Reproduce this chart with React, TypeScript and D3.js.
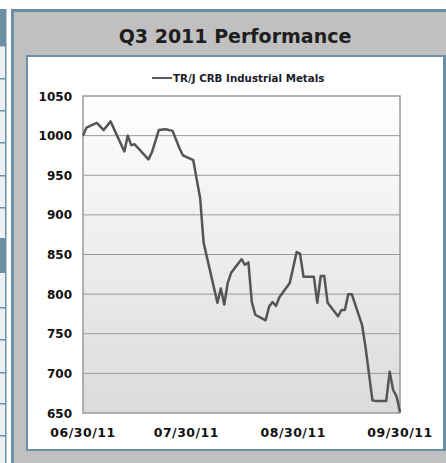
import React from "react";
import * as d3 from "d3";

// TR/J CRB Industrial Metals, Q3 2011
const dates = [
  "2011-06-30", "2011-07-01", "2011-07-04", "2011-07-06", "2011-07-08",
  "2011-07-12", "2011-07-13", "2011-07-14", "2011-07-15", "2011-07-19",
  "2011-07-20", "2011-07-22", "2011-07-24", "2011-07-26", "2011-07-28",
  "2011-07-29", "2011-08-01", "2011-08-03", "2011-08-04", "2011-08-08",
  "2011-08-09", "2011-08-10", "2011-08-11", "2011-08-12", "2011-08-15",
  "2011-08-16", "2011-08-17", "2011-08-18", "2011-08-19", "2011-08-22",
  "2011-08-23", "2011-08-24", "2011-08-25", "2011-08-26", "2011-08-29",
  "2011-08-31", "2011-09-01", "2011-09-02", "2011-09-05", "2011-09-06",
  "2011-09-07", "2011-09-08", "2011-09-09", "2011-09-12", "2011-09-13",
  "2011-09-14", "2011-09-15", "2011-09-16", "2011-09-19", "2011-09-20",
  "2011-09-22", "2011-09-23", "2011-09-26", "2011-09-27", "2011-09-28",
  "2011-09-29", "2011-09-30",
];
const values = [
  1000, 1010, 1016, 1007, 1018,
  980, 1000, 988, 989, 970,
  979, 1007, 1008, 1006, 984,
  975, 969, 921, 865, 789,
  807, 787, 814, 827, 844,
  837, 840, 790, 774, 767,
  784, 790, 785, 796, 814,
  853, 851, 822, 822, 789,
  823, 823, 789, 772, 780,
  780, 800, 800, 761, 733,
  666, 665, 665, 702, 679,
  671, 651,
];
const yTicks = [650, 700, 750, 800, 850, 900, 950, 1000, 1050];
const xTicks = ["2011-06-30", "2011-07-30", "2011-08-30", "2011-09-30"];
const seriesName = "TR/J CRB Industrial Metals";
const title = "Q3 2011 Performance";

// left page strip cell borders
const cellLines = [45, 78, 110, 142, 175, 207, 307, 339, 372, 403, 435];

const W = 446;
const H = 463;
const blue = "#6b8fa5";
const font = "'DejaVu Sans', Verdana, sans-serif";

export default function App() {
  const parse = d3.utcParse("%Y-%m-%d");
  const fmt = d3.utcFormat("%m/%d/%y");

  const left = 83;
  const right = 400;
  const top = 96;
  const bottom = 413;

  const x = d3
    .scaleUtc()
    .domain([parse(xTicks[0])!, parse(xTicks[xTicks.length - 1])!])
    .range([left, right]);
  const y = d3.scaleLinear().domain([650, 1050]).range([bottom, top]);

  const points: [Date, number][] = dates.map((d, i) => [parse(d)!, values[i]]);
  const line = d3
    .line<[Date, number]>()
    .x((d) => x(d[0]))
    .y((d) => y(d[1]));

  return (
    <svg
      width={W}
      height={H}
      style={{ position: "absolute", left: 0, top: 0, background: "#fff" }}
    >
      <defs>
        <linearGradient id="plotbg" x1="0" y1="0" x2="0" y2="1">
          <stop offset="0%" stopColor="#ffffff" />
          <stop offset="100%" stopColor="#dbdbdb" />
        </linearGradient>
      </defs>

      {/* left page strip */}
      <rect x={0} y={9} width={6} height={H - 9} fill="#eef0f5" />
      <rect x={0} y={9} width={6} height={36} fill={blue} />
      <rect x={0} y={238} width={6} height={35} fill={blue} />
      {cellLines.map((cy) => (
        <rect key={cy} x={0} y={cy} width={6} height={1.5} fill={blue} />
      ))}
      <rect x={5} y={9} width={1.5} height={H - 9} fill={blue} />

      {/* grey panel */}
      <rect x={11} y={9} width={W - 11} height={H - 9} fill={blue} />
      <rect x={14} y={12} width={W - 14} height={H - 12} fill="#c0c0c0" />
      <text
        x={235}
        y={43}
        textAnchor="middle"
        fontFamily={font}
        fontWeight="bold"
        fontSize={19}
        fill="#1e1e1e"
      >
        {title}
      </text>

      {/* white chart box */}
      <rect x={26} y={55} width={420} height={396} fill={blue} />
      <rect x={28} y={57} width={415} height={392} fill="#fff" />

      {/* legend */}
      <line x1={152} x2={172} y1={78} y2={78} stroke="#5a5a5a" strokeWidth={2} />
      <text
        x={173}
        y={82}
        fontFamily={font}
        fontWeight="bold"
        fontSize={10.3}
        fill="#1c1c2a"
      >
        {seriesName}
      </text>

      {/* plot area */}
      <rect
        x={left}
        y={top}
        width={right - left}
        height={bottom - top}
        fill="url(#plotbg)"
        stroke="#9a9a9a"
        strokeWidth={1.5}
      />
      {yTicks.slice(1, -1).map((t) => (
        <line
          key={t}
          x1={left}
          x2={right}
          y1={y(t)}
          y2={y(t)}
          stroke="#9a9a9a"
          strokeWidth={1}
        />
      ))}
      {yTicks.map((t) => (
        <text
          key={t}
          x={72}
          y={y(t) + 4.5}
          textAnchor="end"
          fontFamily={font}
          fontWeight="bold"
          fontSize={12}
          fill="#111"
        >
          {t}
        </text>
      ))}
      {xTicks.map((t) => (
        <text
          key={t}
          x={x(parse(t)!)}
          y={437}
          textAnchor="middle"
          fontFamily={font}
          fontWeight="bold"
          fontSize={12.5}
          letterSpacing={0.5}
          fill="#111"
        >
          {fmt(parse(t)!)}
        </text>
      ))}

      <path
        d={line(points) ?? ""}
        fill="none"
        stroke="#555"
        strokeWidth={2.5}
        strokeLinejoin="round"
      />
    </svg>
  );
}
